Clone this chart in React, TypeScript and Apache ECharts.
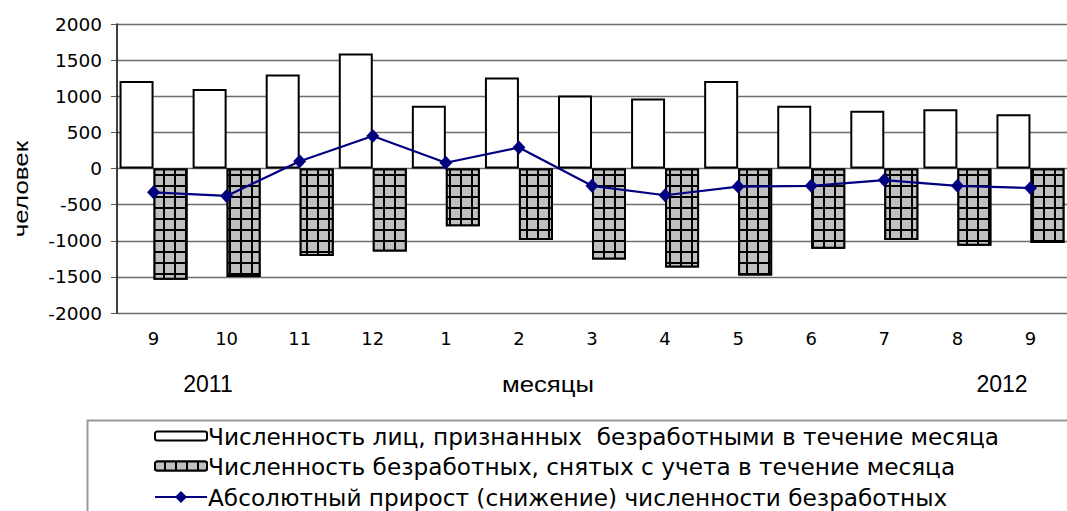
import React, { useEffect, useRef } from "react";
import * as echarts from "echarts";

const months = ["9", "10", "11", "12", "1", "2", "3", "4", "5", "6", "7", "8", "9"];
const registered = [1210, 1100, 1300, 1590, 870, 1260, 1010, 970, 1210, 870, 800, 820, 750];
const removed = [-1540, -1500, -1210, -1150, -800, -990, -1260, -1370, -1480, -1110, -990, -1070, -1030];
const change = [-330, -380, 100, 450, 80, 290, -240, -370, -250, -240, -160, -240, -270];

const seriesNames = [
  "Численность лиц, признанных  безработными в течение месяца",
  "Численность безработных, снятых с учета в течение месяца",
  "Абсолютный прирост (снижение) численности безработных",
];
const yAxisTitle = "человек";
const xAxisTitle = "месяцы";
const yearStart = "2011";
const yearEnd = "2012";

const WIDE = "'DejaVu Sans', Verdana, sans-serif";
const ARIAL = "'Liberation Sans', Arial, sans-serif";

export default function App() {
  const ref = useRef<HTMLDivElement>(null);
  useEffect(() => {
    if (!ref.current) return;
    const chart = echarts.init(ref.current, null, { renderer: "svg" });
    const legendText = { color: "#000", fontSize: 23.2, lineHeight: 26, fontFamily: WIDE, padding: [0, 0, 0, -4] };
    chart.setOption({
      animation: false,
      backgroundColor: "#fff",
      textStyle: { fontFamily: WIDE },
      grid: { left: 117, top: 24, width: 962, height: 289, containLabel: false },
      xAxis: {
        type: "category",
        data: months,
        axisLine: { show: false },
        axisTick: { show: false },
        axisLabel: { color: "#000", fontSize: 18, margin: 16, fontFamily: WIDE },
      },
      yAxis: {
        type: "value",
        min: -2000,
        max: 2000,
        interval: 500,
        axisLine: { show: true, lineStyle: { color: "#000", width: 1.5 } },
        axisTick: { show: true, length: 6, lineStyle: { color: "#555" } },
        axisLabel: { color: "#000", fontSize: 18.5, margin: 15, fontFamily: WIDE, formatter: (v: number) => String(v) },
        splitLine: { show: true, lineStyle: { color: "#6e6e6e", width: 1.3 } },
      },
      legend: [
        {
          orient: "vertical",
          left: 154,
          top: 423,
          itemWidth: 52,
          itemHeight: 9,
          itemGap: 4,
          padding: 0,
          textStyle: legendText,
          data: [seriesNames[0], seriesNames[1]],
        },
        {
          orient: "vertical",
          left: 154,
          top: 484,
          itemWidth: 52,
          itemHeight: 15,
          itemGap: 4,
          padding: 0,
          textStyle: legendText,
          data: [seriesNames[2]],
        },
      ],
      graphic: [
        {
          type: "rect",
          left: 85,
          top: 418,
          shape: { width: 1100, height: 150 },
          style: { fill: "none", stroke: "#9a9a9a", lineWidth: 2 },
          z: -1,
        },
        {
          type: "text",
          x: 21,
          y: 189,
          rotation: Math.PI / 2,
          scaleX: 1.3,
          style: { text: yAxisTitle, fontSize: 20, fontFamily: ARIAL, fill: "#000", align: "center", verticalAlign: "middle" },
        },
        {
          type: "text",
          x: 208,
          y: 384,
          style: { text: yearStart, fontSize: 23, fontFamily: ARIAL, fill: "#000", align: "center", verticalAlign: "middle" },
        },
        {
          type: "text",
          x: 548,
          y: 384,
          scaleX: 1.12,
          style: { text: xAxisTitle, fontSize: 23, fontFamily: ARIAL, fill: "#000", align: "center", verticalAlign: "middle" },
        },
        {
          type: "text",
          x: 1002,
          y: 384,
          style: { text: yearEnd, fontSize: 23, fontFamily: ARIAL, fill: "#000", align: "center", verticalAlign: "middle" },
        },
      ],
      series: [
        {
          name: seriesNames[0],
          type: "bar",
          data: registered,
          barWidth: 34,
          barGap: "0%",
          itemStyle: { color: "#fff", borderColor: "#000", borderWidth: 2 },
        },
        {
          name: seriesNames[1],
          type: "bar",
          data: removed,
          barWidth: 34,
          barGap: "0%",
          itemStyle: {
            color: "#000",
            borderColor: "#000",
            borderWidth: 2,
            decal: {
              symbol: "rect",
              symbolSize: 1,
              color: "#c0c0c0",
              dashArrayX: [8.3, 1.4],
              dashArrayY: [8.4, 1.3],
              rotation: 0,
            },
          },
        },
        {
          name: seriesNames[2],
          type: "line",
          data: change,
          symbol: "diamond",
          symbolSize: [13, 14],
          lineStyle: { color: "#000080", width: 2.2 },
          itemStyle: { color: "#000080" },
          z: 5,
        },
      ],
    });
    return () => chart.dispose();
  }, []);
  return <div ref={ref} style={{ position: "absolute", left: 0, top: 0, width: 1067, height: 511 }} />;
}
